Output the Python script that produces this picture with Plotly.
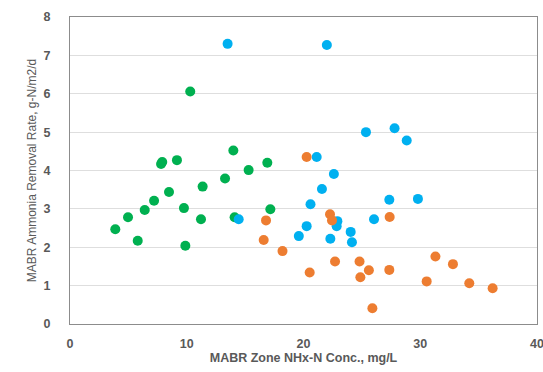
import plotly.graph_objects as go

green_x = [3.88, 4.97, 5.8, 6.4, 7.2, 7.8, 7.9, 9.16, 8.48, 9.76, 9.88, 11.36, 11.22, 10.3, 13.28, 13.99, 15.3, 16.9, 14.1, 17.16]
green_y = [2.47, 2.78, 2.17, 2.97, 3.21, 4.17, 4.22, 4.27, 3.44, 3.02, 2.04, 3.58, 2.73, 6.06, 3.79, 4.52, 4.01, 4.2, 2.78, 2.99]

blue_x = [13.5, 22.0, 21.13, 22.6, 21.58, 20.6, 20.27, 19.6, 22.9, 22.84, 22.3, 24.04, 24.15, 26.04, 27.35, 29.8, 25.35, 27.8, 28.84, 14.45]
blue_y = [7.30, 7.27, 4.35, 3.91, 3.52, 3.12, 2.55, 2.29, 2.68, 2.55, 2.22, 2.40, 2.13, 2.73, 3.24, 3.26, 5.0, 5.1, 4.78, 2.73]

orange_x = [20.27, 16.79, 16.59, 18.2, 22.27, 22.44, 22.7, 20.53, 24.8, 24.87, 25.6, 25.9, 27.35, 27.38, 31.3, 32.8, 30.55, 34.2, 36.2]
orange_y = [4.35, 2.70, 2.19, 1.90, 2.86, 2.70, 1.63, 1.34, 1.63, 1.22, 1.40, 0.41, 1.41, 2.79, 1.76, 1.56, 1.11, 1.06, 0.93]

x_ticks = [0, 10, 20, 30, 40]
y_ticks = [0, 1, 2, 3, 4, 5, 6, 7, 8]

fig = go.Figure()
for xs, ys, col in [(green_x, green_y, "#00B050"), (blue_x, blue_y, "#00B0F0"), (orange_x, orange_y, "#ED7D31")]:
    fig.add_trace(go.Scatter(x=xs, y=ys, mode="markers",
                             marker=dict(color=col, size=10, line=dict(width=0)),
                             showlegend=False, cliponaxis=False))

font_family = "Liberation Sans, Arial, sans-serif"
fig.update_layout(
    width=543, height=372,
    margin=dict(l=70, r=6, t=17, b=48),
    paper_bgcolor="white", plot_bgcolor="white",
    font=dict(family=font_family, color="#595959"),
    xaxis=dict(range=[0, 40], tickvals=x_ticks, showgrid=False, zeroline=False,
               showline=True, linecolor="#8C8C8C", linewidth=1, mirror=True,
               ticks="", ticklabelstandoff=8, ticklabeloverflow="allow", automargin=False,
               tickfont=dict(size=12.5, color="#595959", weight="bold"),
               title=dict(text="MABR Zone NHx-N Conc., mg/L", font=dict(size=12.5, color="#595959", weight="bold"), standoff=0)),
    yaxis=dict(range=[0, 8], tickvals=y_ticks, showgrid=True, gridcolor="#DEDEDE", gridwidth=1,
               zeroline=False, showline=True, linecolor="#8C8C8C", linewidth=1, mirror=True,
               ticks="", ticklabelstandoff=16, automargin=False,
               tickfont=dict(size=12.5, color="#595959", weight="bold"),
               title=dict(text="MABR Ammonia Removal Rate, g-N/m2/d", font=dict(size=12, color="#595959"), standoff=4)),
)
fig.write_html("out.html")
